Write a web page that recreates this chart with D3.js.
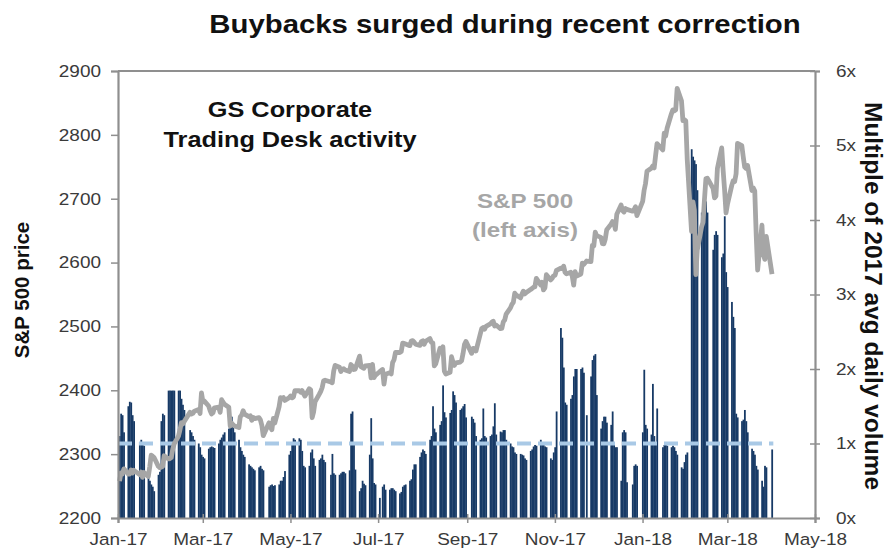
<!DOCTYPE html>
<html><head><meta charset="utf-8">
<script src="https://cdn.jsdelivr.net/npm/d3@7/dist/d3.min.js"></script>
<style>body{margin:0;background:#fff} text{font-family:"Liberation Sans",Arial,sans-serif}</style>
</head><body><svg id="c" width="892" height="552"></svg>
<script>
// ---- data ----
const holidays = ["2017-01-16","2017-02-20","2017-04-14","2017-05-29","2017-07-04","2017-09-04","2017-11-23","2017-12-25","2018-01-01","2018-01-15","2018-02-19","2018-03-30"];
const firstDay = "2017-01-03", lastDay = "2018-04-02";
const xDomain = ["2017-01-01","2018-05-01"];
const leftTicks = [2200,2300,2400,2500,2600,2700,2800,2900];
const rightTicks = [0,1,2,3,4,5,6];
const rightTickLabels = ["0x","1x","2x","3x","4x","5x","6x"];
const avgLevel = 1;
// S&P 500 daily close (left axis)
const spx = [
2257.83,2270.75,2269.00,2276.98,2268.90,2268.90,2275.32,2270.44,2274.64,2267.89,2271.89,2263.69,2271.31,2265.20,2280.07,2298.37,2296.68,2294.69,2280.90,2278.87,
2279.55,2280.85,2297.42,2292.56,2293.08,2294.67,2307.87,2316.10,2328.25,2337.58,2349.25,2347.22,2351.16,2365.38,2362.82,2363.81,2367.34,2369.75,2363.64,
2395.96,2381.92,2383.12,2375.31,2368.39,2362.98,2364.87,2372.60,2373.47,2365.45,2385.26,2381.38,2378.25,2373.47,2344.02,2348.45,2345.96,2343.98,2341.59,2358.57,2361.13,2368.06,2362.72,
2358.84,2360.16,2352.95,2357.49,2355.54,2357.16,2353.78,2344.93,2328.95,2349.01,2342.19,2338.17,2355.84,2348.69,2374.15,2388.61,2387.45,2388.77,2384.20,
2388.33,2391.17,2388.13,2389.52,2399.29,2399.38,2396.92,2399.63,2394.44,2390.90,2402.32,2400.67,2357.03,2365.72,2381.73,2394.02,2398.42,2404.39,2415.07,2415.82,2412.91,2411.80,
2430.06,2439.07,2436.10,2429.33,2433.14,2433.79,2431.77,2429.39,2440.35,2437.92,2432.46,2433.15,2453.46,2437.03,2435.61,2434.50,2438.30,2439.07,2419.38,2440.69,2419.70,2423.41,
2429.01,2432.54,2409.75,2425.18,2427.43,2425.53,2443.25,2447.83,2459.27,2459.14,2460.61,2473.83,2473.45,2472.54,2469.91,2477.13,2477.83,2475.42,2472.10,2470.30,
2476.35,2477.57,2472.16,2476.83,2480.91,2474.92,2474.02,2438.21,2441.32,2465.84,2464.61,2468.11,2430.01,2425.55,2428.37,2452.51,2444.04,2438.97,2443.05,2444.24,2446.30,2457.59,2471.65,
2476.55,2457.85,2465.54,2465.10,2461.43,2488.11,2496.48,2498.37,2495.62,2500.23,2503.87,2506.65,2508.24,2500.60,2502.22,2496.66,2496.84,2507.04,2510.06,2519.36,
2529.12,2534.58,2537.74,2552.07,2549.33,2544.73,2550.64,2555.24,2550.93,2553.17,2557.64,2559.36,2561.26,2562.10,2575.21,2564.98,2569.13,2557.15,2560.40,2581.07,2572.83,2575.26,
2579.36,2579.85,2587.84,2591.13,2590.64,2594.38,2584.62,2582.30,2584.84,2578.87,2564.62,2585.64,2578.85,2582.14,2599.03,2597.08,2602.42,2601.42,2627.04,2626.07,2647.58,
2642.22,2639.44,2629.57,2629.27,2636.98,2651.50,2659.99,2664.11,2662.85,2652.01,2675.81,2690.16,2681.47,2679.25,2684.57,2683.34,2680.50,2682.62,2687.54,2673.61,
2695.81,2713.06,2723.99,2743.15,2747.71,2751.29,2748.23,2767.56,2786.24,2776.42,2802.56,2798.03,2810.30,2832.97,2839.13,2837.54,2839.25,2872.87,2853.53,2822.43,2823.81,
2821.98,2762.13,2648.94,2695.14,2681.66,2581.00,2619.55,2656.00,2662.94,2698.63,2731.20,2732.22,2716.26,2701.33,2703.96,2747.30,2779.60,2744.28,2713.83,
2677.67,2691.25,2720.94,2728.12,2726.80,2738.97,2786.57,2783.02,2765.31,2749.48,2747.33,2752.01,2712.92,2716.94,2711.93,2643.69,2588.26,2658.55,2612.62,2605.00,2640.87,
2581.88];
// Corporate desk activity, multiple of 2017 avg daily volume (right axis), grouped by trading week
const volumeWeeks = [
[1.1,1.4,1.38,1.15],[1.5,1.56,1.55,1.38,1.3],[1.02,1.05,1.0,0.97],[0.55,0.5,0.45,0.42,0.36],[0.58,0.62,1.3,1.4,1.38],
[1.71,1.71,1.71,1.71,1.71],[1.71,1.71,1.6,1.52,1.45],[1.18,1.15,1.1,1.05],[1.0,0.95,0.85,0.82,0.8],[0.93,0.95,0.96,0.95,0.94],
[1.0,1.05,1.08,1.12,1.15],[1.2,1.3,1.36,1.22,1.15],[1.05,0.95,0.9,0.85,0.82],[0.72,0.7,0.68,0.66,0.64],[0.68,0.7,0.66,0.64],
[0.42,0.44,0.45,0.43,0.44],[0.45,0.5,0.5,0.55,0.63],[0.85,0.9,1.0,1.07,1.05],[1.07,1.05,0.9,0.7,0.68],[0.7,0.88,0.92,0.8,0.7],
[0.78,0.8,0.85,0.78,0.75],[0.58,0.86,0.6,0.58],[0.58,0.6,0.62,0.62,0.6],[0.64,1.4,1.43,1.0,0.65],[0.36,0.4,0.5,0.46,0.44],
[0.85,1.34,0.8,0.47,0.45],[0.27,0.42,0.45,0.38],[0.38,0.4,0.4,0.38,0.36],[0.33,0.35,0.42,0.44,0.45],[0.5,0.52,0.65,0.72,0.72],
[0.82,0.88,0.92,0.9,0.86],[1.05,1.1,1.5,1.2,1.15],[1.25,1.3,1.78,1.42,1.35],[1.41,1.45,1.7,1.65,1.55],[1.45,1.47,1.5,1.53,1.35],
[1.36,1.33,1.28,1.1],[1.05,1.07,1.47,1.1,1.08],[1.1,1.12,1.23,1.54,1.12],[1.16,1.15,1.18,1.18,1.05],[1.0,0.96,0.95,0.88,0.86],
[0.86,0.85,0.84,0.8,0.78],[0.9,0.92,0.96,0.98,0.97],[1.05,1.0,0.98,0.96,0.95],[0.8,0.78,0.88,0.95,1.43],[2.55,2.42,2.02,1.55,1.52],
[1.6,1.65,1.9,2.0,2.0],[2.0,2.02,1.95,1.38],[1.9,2.12,2.18,2.2,1.65],[1.2,1.3,1.36,1.36,1.28],[1.25,1.43,1.0,0.95,0.95],
[0.5,1.15,1.18,1.15,0.48],[0.45,0.7,0.72,0.7],[1.15,1.99,1.25,1.2],[1.12,1.8,1.1,1.0,1.47],[0.95,0.98,1.0,0.97],
[0.95,0.97,0.95,0.9,0.85],[0.68,0.66,0.75,0.85,0.88],[4.95,4.85,4.8,4.75,4.4],[4.1,4.2,4.25,4.25,4.1],[3.6,3.8,3.85,3.8],
[3.5,3.55,4.05,3.3,3.1],[2.9,2.7,2.55,1.4,1.35],[1.3,1.32,1.45,1.3,1.15],[0.93,0.9,0.85,0.7,0.65],[0.5,0.42,0.7,0.68],
[0.92]];

// ---- build ----
const parse = d3.utcParse("%Y-%m-%d"), fmt = d3.utcFormat("%Y-%m-%d");
const hol = new Set(holidays);
const days = d3.utcDays(parse(firstDay), d3.utcDay.offset(parse(lastDay), 1))
  .filter(d => d.getUTCDay() % 6 !== 0 && !hol.has(fmt(d)));
const volume = volumeWeeks.flat();
const rows = days.map((d, i) => ({d, spx: spx[i], vol: volume[i]}));

const svg = d3.select("#c");
const L = 118, R = 815, T = 71, B = 518;
const SX = 1.15; // horizontal glyph stretch of the original artwork
const x = d3.scaleUtc().domain(xDomain.map(parse)).range([L, R]);
const yL = d3.scaleLinear().domain([2200, 2900]).range([B, T]);
const yR = d3.scaleLinear().domain([0, 6]).range([B, T]);
const dayW = x(parse("2017-01-02")) - x(parse("2017-01-01"));

const axisCol = "#8f8f8f", labCol = "#3a3a3a";

// bars
svg.append("g").selectAll("rect").data(rows).join("rect")
  .attr("x", r => x(r.d) - dayW - 0.6).attr("width", dayW + 0.35)
  .attr("y", r => yR(r.vol)).attr("height", r => B - yR(r.vol))
  .attr("fill", "#173a66");

// 1x dashed line
svg.append("line").attr("x1", L).attr("x2", x(days[days.length-1]))
  .attr("y1", yR(avgLevel)).attr("y2", yR(avgLevel))
  .attr("stroke", "#a9c9e6").attr("stroke-width", 4).attr("stroke-dasharray", "14,7");

// S&P line
svg.append("path").datum(rows)
  .attr("d", d3.line().x(r => x(r.d) - dayW/2 - 0.6).y(r => yL(r.spx)))
  .attr("fill", "none").attr("stroke", "#a6a6a6").attr("stroke-width", 4.8).attr("stroke-linejoin", "round");

// frame top
svg.append("line").attr("x1", L).attr("x2", R).attr("y1", T).attr("y2", T).attr("stroke", axisCol).attr("stroke-width", 2);

// left axis
const gl = svg.append("g").attr("transform", `translate(${L},0)`)
  .call(d3.axisLeft(yL).tickValues(leftTicks).tickSize(7).tickPadding(10).tickFormat(d3.format("d")));
// right axis
const gr = svg.append("g").attr("transform", `translate(${R},0)`)
  .call(d3.axisRight(yR).tickValues(rightTicks).tickSize(5).tickPadding(16).tickFormat((d,i) => rightTickLabels[i]));
gr.selectAll(".tick line").attr("x1", -5);
// bottom axis
const gb = svg.append("g").attr("transform", `translate(0,${B})`)
  .call(d3.axisBottom(x).ticks(d3.utcMonth.every(2)).tickSize(5).tickPadding(10).tickFormat(d3.utcFormat("%b-%y")));
gb.selectAll(".tick line").attr("y1", -4);

[gl, gr, gb].forEach(g => {
  g.select(".domain").attr("stroke", axisCol).attr("stroke-width", 2.2);
  g.selectAll(".tick line").attr("stroke", axisCol).attr("stroke-width", 1.5);
  g.selectAll(".tick text").attr("fill", labCol).style("font-size", "16.5px")
    .style("font-family", '"Liberation Sans",Arial,sans-serif');
});
// stretch tick labels horizontally, keeping their anchor points
[gl, gr, gb].forEach(g => g.selectAll(".tick text").each(function() {
  const t = d3.select(this); const tx = +t.attr("x") || 0;
  t.attr("x", tx / SX).attr("transform", `scale(${SX},1)`);
}));

function stretched(cx, y, size, color, str) {
  return svg.append("text").attr("transform", `translate(${cx},${y}) scale(${SX},1)`)
    .attr("text-anchor", "middle").style("font-size", size + "px").style("font-weight", "bold")
    .attr("fill", color).text(str);
}
// titles
stretched(505, 33, 25.5, "#111", "Buybacks surged during recent correction");
svg.append("text").attr("transform", "translate(29,290) rotate(-90)").attr("text-anchor", "middle")
  .style("font-size", "20.5px").style("font-weight", "bold").attr("fill", "#111").text("S&P 500 price");
svg.append("text").attr("transform", "translate(865,296) rotate(90)").attr("text-anchor", "middle")
  .style("font-size", "24.5px").style("font-weight", "bold").attr("fill", "#111").text("Multiple of 2017 avg daily volume");
// annotations
stretched(290, 117, 22, "#111", "GS Corporate");
stretched(290, 147, 22, "#111", "Trading Desk activity");
stretched(525, 208, 21, "#a6a6a6", "S&P 500");
stretched(525, 237, 21, "#a6a6a6", "(left axis)");
</script></body></html>
